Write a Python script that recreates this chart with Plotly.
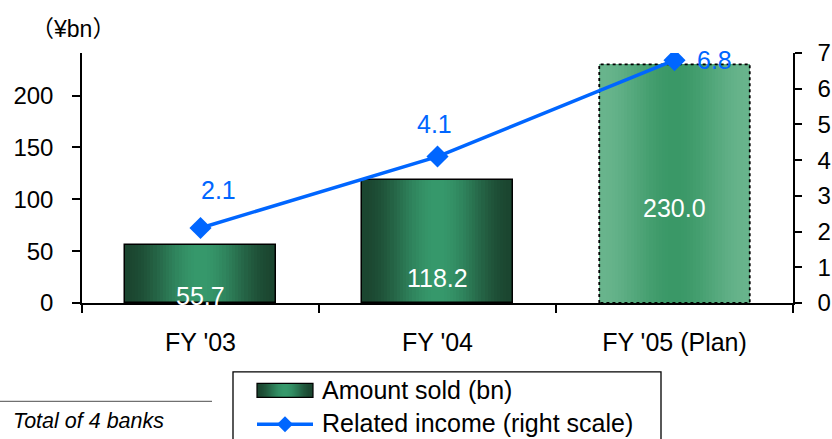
import plotly.graph_objects as go

# ---- data ----
categories = ["FY '03", "FY '04", "FY '05 (Plan)"]
amount_sold = [55.7, 118.2, 230.0]          # ¥bn, left scale
related_income = [2.1, 4.1, 6.8]            # right scale
left_ticks = [0, 50, 100, 150, 200]
right_ticks = [0, 1, 2, 3, 4, 5, 6, 7]

FONT = "Liberation Sans, Arial, sans-serif"
CJK = "Noto Sans CJK JP"
BLUE = "#0066FF"
W, H = 832, 439
PLOT_L, PLOT_R, PLOT_T, PLOT_B = 82, 793, 53, 303.5

xs = list(range(len(categories)))
n_actual = 2  # first two bars are results, the last one is a plan
BAR_W = 0.635
STEPS = 24


def mix(c1, c2, t):
    return "rgb(%d,%d,%d)" % tuple(round(a + (b - a) * t) for a, b in zip(c1, c2))


def smooth(t):
    return t * t * (3 - 2 * t)


fig = go.Figure()

# cylinder-like shading: stacked overlay bars, narrowing toward the centre
actual_edge, actual_mid = (27, 70, 48), (54, 152, 107)
plan_edge, plan_mid = (104, 180, 140), (58, 152, 103)
for k in range(STEPS):
    frac = 1 - k / STEPS
    t = smooth(k / (STEPS - 1))
    fig.add_trace(go.Bar(
        x=xs[:n_actual], y=amount_sold[:n_actual], width=BAR_W * frac,
        marker=dict(color=mix(actual_edge, actual_mid, t), line=dict(width=0)),
        showlegend=False, hoverinfo="skip"))
    fig.add_trace(go.Bar(
        x=xs[n_actual:], y=amount_sold[n_actual:], width=BAR_W * frac,
        marker=dict(color=mix(plan_edge, plan_mid, t), line=dict(width=0)),
        showlegend=False, hoverinfo="skip"))

# solid outline for actual bars
fig.add_trace(go.Bar(
    x=xs[:n_actual], y=amount_sold[:n_actual], width=BAR_W,
    marker=dict(color="rgba(0,0,0,0)", line=dict(color="black", width=1.5)),
    showlegend=False, hoverinfo="skip"))

# dotted outline for the plan bar
for i in xs[n_actual:]:
    v = amount_sold[i]
    fig.add_trace(go.Scatter(
        x=[i - BAR_W / 2, i - BAR_W / 2, i + BAR_W / 2, i + BAR_W / 2, i - BAR_W / 2],
        y=[0, v, v, 0, 0], mode="lines",
        line=dict(color="black", width=1.8, dash="dot"),
        showlegend=False, hoverinfo="skip"))

# related income line
fig.add_trace(go.Scatter(
    x=xs, y=related_income, yaxis="y2", mode="lines+markers",
    line=dict(color=BLUE, width=3.5),
    marker=dict(symbol="diamond", size=17, color=BLUE),
    showlegend=False, hoverinfo="skip"))

annotations = []
# bar value labels
bar_label_shift = [7.5, 25.5, 95.5]
for i, v in enumerate(amount_sold):
    annotations.append(dict(
        x=i, y=0, xref="x", yref="y", yshift=bar_label_shift[i],
        text=f"{v:.1f}", showarrow=False,
        font=dict(family=FONT, size=25, color="white")))

# line value labels
line_label_shift = [(18, 38), (-3, 33), (40, 0)]
for i, v in enumerate(related_income):
    dx, dy = line_label_shift[i]
    annotations.append(dict(
        x=i, y=v, xref="x", yref="y2", xshift=dx, yshift=dy,
        text=f"{v:.1f}", showarrow=False,
        font=dict(family=FONT, size=25, color=BLUE)))


def px(x):
    return (x - PLOT_L) / (PLOT_R - PLOT_L)


def py(y):
    return (PLOT_B - y) / (PLOT_B - PLOT_T)


# unit label (full-width brackets)
annotations.append(dict(
    x=px(29), y=py(27), xref="paper", yref="paper", xanchor="left", yanchor="middle",
    text=(f"<span style='font-family:{CJK}'>（</span>¥bn"
          f"<span style='font-family:{CJK}'>）</span>"),
    showarrow=False,
    font=dict(family=FONT, size=23, color="black")))

# footnote
annotations.append(dict(
    x=px(11), y=py(422), xref="paper", yref="paper", xanchor="left", yanchor="middle",
    text="<i>Total of 4 banks</i>", showarrow=False,
    font=dict(family=FONT, size=21.5, color="black")))

# legend texts
annotations.append(dict(
    x=px(320), y=py(391), xref="paper", yref="paper", xanchor="left", yanchor="middle",
    text="Amount sold (bn)", showarrow=False,
    font=dict(family=FONT, size=25, color="black")))
annotations.append(dict(
    x=px(320), y=py(424), xref="paper", yref="paper", xanchor="left", yanchor="middle",
    text="Related income (right scale)", showarrow=False,
    font=dict(family=FONT, size=25, color="black")))

shapes = []
# footnote rule
shapes.append(dict(type="line", xref="paper", yref="paper",
                   x0=px(0), x1=px(212), y0=py(402), y1=py(402),
                   line=dict(color="#707070", width=1.3)))
# legend frame
shapes.append(dict(type="rect", xref="paper", yref="paper",
                   x0=px(233), x1=px(661), y0=py(372.5), y1=py(460),
                   line=dict(color="black", width=1.3), fillcolor="rgba(0,0,0,0)"))
# legend bar swatch with the same shading
sx0, sx1, sy0, sy1 = 257, 313, 384, 398
for k in range(STEPS):
    frac = 1 - k / STEPS
    t = smooth(k / (STEPS - 1))
    half = (sx1 - sx0) / 2 * frac
    cx = (sx0 + sx1) / 2
    shapes.append(dict(type="rect", xref="paper", yref="paper",
                       x0=px(cx - half), x1=px(cx + half), y0=py(sy1), y1=py(sy0),
                       line=dict(width=0), fillcolor=mix(actual_edge, actual_mid, t)))
shapes.append(dict(type="rect", xref="paper", yref="paper",
                   x0=px(sx0), x1=px(sx1), y0=py(sy1), y1=py(sy0),
                   line=dict(color="black", width=1.2), fillcolor="rgba(0,0,0,0)"))
# legend line swatch with diamond
ly = 425
shapes.append(dict(type="line", xref="paper", yref="paper",
                   x0=px(257), x1=px(313), y0=py(ly), y1=py(ly),
                   line=dict(color=BLUE, width=3.5)))
cx, r = 285, 8
shapes.append(dict(type="path", xref="paper", yref="paper",
                   path="M %f %f L %f %f L %f %f L %f %f Z" % (
                       px(cx - r), py(ly), px(cx), py(ly - r),
                       px(cx + r), py(ly), px(cx), py(ly + r)),
                   line=dict(width=0), fillcolor=BLUE))

fig.update_layout(
    width=W, height=H,
    margin=dict(l=PLOT_L, r=W - PLOT_R, t=PLOT_T, b=H - PLOT_B),
    paper_bgcolor="white", plot_bgcolor="white",
    barmode="overlay", bargap=0,
    showlegend=False,
    font=dict(family=FONT, color="black"),
    xaxis=dict(
        range=[-0.5, len(categories) - 0.5],
        tickvals=xs, ticktext=categories, ticks="",
        tickfont=dict(family=FONT, size=25, color="black"),
        ticklabelstandoff=16, automargin=False,
        showline=True, linecolor="black", linewidth=1.5,
        showgrid=False, zeroline=False,
        minor=dict(tickvals=[i - 0.5 for i in range(len(categories) + 1)],
                   ticks="outside", ticklen=8, tickcolor="black", tickwidth=1.5,
                   showgrid=False),
    ),
    yaxis=dict(
        range=[0, 241], tickvals=left_ticks,
        ticks="outside", ticklen=8, tickcolor="black", tickwidth=1.5,
        tickfont=dict(family=FONT, size=24, color="black"),
        ticklabelstandoff=14, automargin=False,
        showline=True, linecolor="black", linewidth=1.5,
        showgrid=False, zeroline=False,
    ),
    yaxis2=dict(
        range=[0, 7], tickvals=right_ticks, overlaying="y", side="right",
        ticks="outside", ticklen=7, tickcolor="black", tickwidth=1.5,
        tickfont=dict(family=FONT, size=24, color="black"),
        ticklabelstandoff=11, automargin=False,
        showline=True, linecolor="black", linewidth=1.5,
        showgrid=False, zeroline=False,
    ),
    annotations=annotations,
    shapes=shapes,
)

fig.write_html("out.html")
